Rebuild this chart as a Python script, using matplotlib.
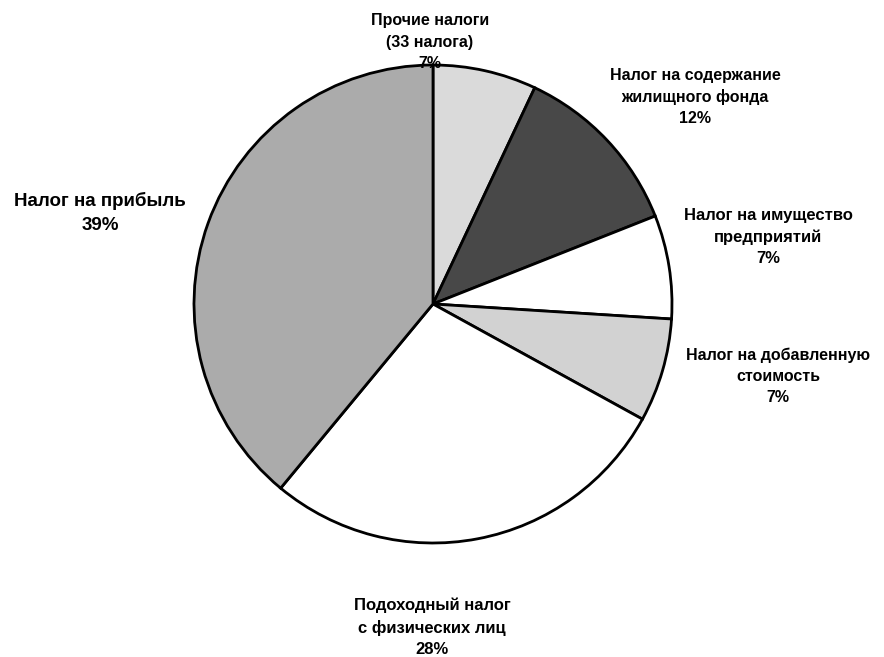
import matplotlib
matplotlib.use("Agg")
import matplotlib.pyplot as plt

# tax revenue structure, clockwise from the top
labels = ["Прочие налоги\n(33 налога)\n7%",
          "Налог на содержание\nжилищного фонда\n12%",
          "Налог на имущество\nпредприятий\n7%",
          "Налог на добавленную\nстоимость\n7%",
          "Подоходный налог\nс физических лиц\n28%",
          "Налог на прибыль\n39%"]
shares = [7, 12, 7, 7, 28, 39]
fills = ["#dadada", "#484848", "#ffffff", "#d2d2d2", "#ffffff", "#ababab"]

# where each label block sits (pixel coords, y from top)
label_x = [430, 695, 768, 778, 432, 100]
label_y = [42, 97, 237, 376, 627, 213]
label_size = [11.5, 11.5, 12, 11.5, 12, 13.5]

W, H = 884, 657
fig = plt.figure(figsize=(W / 100, H / 100), dpi=100)
ax = fig.add_axes([0, 0, 1, 1])

ax.pie(shares, colors=fills, startangle=90, counterclock=False,
       center=(433, H - 304), radius=239,
       wedgeprops=dict(edgecolor="black", linewidth=2))

for lab, x, y, fs in zip(labels, label_x, label_y, label_size):
    ax.text(x, H - y, lab, ha="center", va="center", fontsize=fs,
            fontweight="bold", family="Liberation Sans", linespacing=1.5)

ax.set_xlim(0, W)
ax.set_ylim(0, H)
ax.set_aspect("equal")
ax.axis("off")

plt.savefig("out.png", dpi=100)
